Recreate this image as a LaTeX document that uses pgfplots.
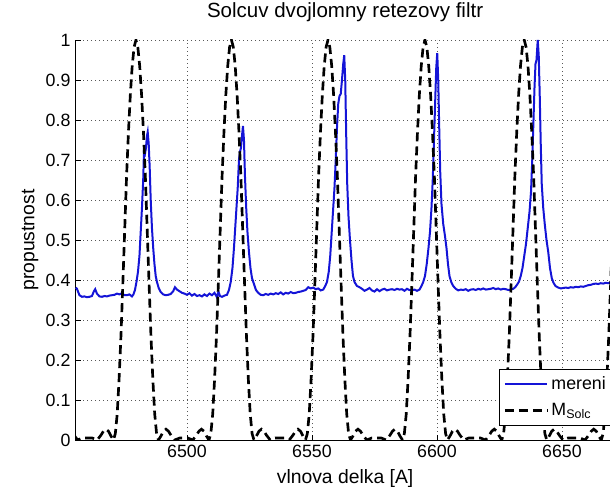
\documentclass[border=0pt]{standalone}
\usepackage{fontspec}
\setmainfont{Liberation Sans}
\usepackage{pgfplots}
\pgfplotsset{compat=1.18}
\definecolor{mblue}{RGB}{20,20,215}
\begin{document}
\begin{tikzpicture}
\begin{axis}[name=ax, at={(0,0)}, anchor=south west,
  scale only axis, width=404.85pt, height=300pt,
  xmin=6455.3, xmax=6671.2, ymin=0, ymax=1,
  axis x line*=bottom, axis y line*=left,
  axis line style={line width=0.75pt, -},
  xtick={6500,6550,6600,6650}, xticklabels={6500,6550,6600,6650},
  ytick={0,0.1,0.2,0.3,0.4,0.5,0.6,0.7,0.8,0.9,1},
  yticklabels={0,0.1,0.2,0.3,0.4,0.5,0.6,0.7,0.8,0.9,1},
  tick align=inside, major tick length=4pt, tick style={black, line width=0.6pt},
  grid=major, major grid style={black!65, line width=0.6pt, dash pattern=on 0.75pt off 2.25pt},
  ticklabel style={font=\fontsize{13.35}{16}\selectfont},
  title={Solcuv dvojlomny retezovy filtr},
  title style={font=\fontsize{15.4}{18}\selectfont, at={(0.5,1)}, anchor=base, yshift=10.5pt},
  xlabel={vlnova delka [A]},
  xlabel style={font=\fontsize{14.5}{17}\selectfont, at={(axis description cs:0.5,-0.1075)}, anchor=base},
  ylabel={propustnost},
  ylabel style={font=\fontsize{14.5}{17}\selectfont, at={(axis description cs:-0.0837,0.5)}, anchor=center},
  legend style={at={(0.785,0.036)}, anchor=south west, draw=black, line width=0.75pt, fill=white,
    font=\fontsize{13.35}{16}\selectfont, row sep=5pt, inner ysep=3.5pt, inner xsep=3pt},
  legend cell align=left,
  legend image code/.code={\draw[#1] (0pt,0pt) -- (32pt,0pt);},
]
\addplot[mblue, line width=1.5pt] coordinates {
(6455.5,0.381) (6456,0.378) (6456.5,0.37) (6457,0.362) (6458,0.358) (6459,0.359) (6460,0.357) (6461,0.358) (6462,0.360) (6462.8,0.372) (6463.3,0.377) (6464,0.366) (6465,0.359) (6466,0.358) (6467,0.360) (6468,0.359) (6469,0.361) (6470,0.362) (6471,0.363) (6472,0.366) (6473,0.364) (6474,0.367) (6475,0.362) (6476,0.362) (6477,0.364) (6478,0.359) (6478.6,0.364) (6479.2,0.375) (6479.8,0.395) (6480.4,0.42) (6481,0.46) (6481.5,0.52) (6482,0.58) (6482.5,0.65) (6482.8,0.72) (6483.2,0.715) (6483.6,0.73) (6484,0.76) (6484.3,0.77) (6484.7,0.74) (6485.1,0.68) (6485.5,0.60) (6486,0.53) (6486.5,0.48) (6487,0.44) (6487.5,0.41) (6488,0.395) (6488.7,0.38) (6489.5,0.37) (6490.5,0.364) (6491.5,0.362) (6492.5,0.363) (6493.5,0.365) (6494.5,0.372) (6495.2,0.382) (6496,0.376) (6497,0.372) (6498,0.368) (6499,0.366) (6500,0.363) (6501,0.367) (6502,0.361) (6503,0.365) (6504,0.360) (6505,0.362) (6506,0.359) (6507,0.364) (6508,0.36) (6509,0.366) (6510,0.362) (6511,0.368) (6512,0.357) (6512.6,0.371) (6513.2,0.36) (6514,0.358) (6515,0.361) (6516,0.363) (6516.8,0.375) (6517.5,0.395) (6518.2,0.43) (6518.8,0.48) (6519.3,0.53) (6519.8,0.58) (6520.3,0.63) (6520.8,0.70) (6521.2,0.72) (6521.6,0.73) (6522,0.76) (6522.4,0.785) (6522.8,0.75) (6523.2,0.66) (6523.7,0.58) (6524.2,0.52) (6524.8,0.47) (6525.4,0.43) (6526,0.405) (6526.8,0.39) (6527.6,0.375) (6528.5,0.368) (6529.5,0.363) (6530.5,0.362) (6531.5,0.365) (6532.5,0.363) (6533.5,0.366) (6534.5,0.364) (6535.5,0.367) (6536.5,0.365) (6537.5,0.369) (6538.5,0.364) (6539.5,0.368) (6540.5,0.366) (6541.5,0.370) (6542.5,0.367) (6543.5,0.368) (6544.5,0.370) (6545.5,0.371) (6546.5,0.373) (6547.5,0.375) (6548.5,0.382) (6549.5,0.379) (6550.5,0.381) (6551.5,0.377) (6552.5,0.379) (6553.5,0.374) (6554.5,0.376) (6555.3,0.385) (6556,0.395) (6556.7,0.42) (6557.3,0.46) (6557.9,0.52) (6558.5,0.58) (6559,0.63) (6559.5,0.70) (6560,0.78) (6560.5,0.84) (6561,0.86) (6561.5,0.865) (6562,0.90) (6562.5,0.94) (6562.9,0.962) (6563.3,0.90) (6563.7,0.76) (6564.1,0.64) (6564.6,0.56) (6565.2,0.50) (6565.8,0.45) (6566.4,0.41) (6567,0.395) (6568,0.385) (6569,0.382) (6570,0.378) (6571,0.373) (6572,0.376) (6573,0.380) (6574,0.374) (6575,0.371) (6576,0.377) (6577,0.372) (6578,0.376) (6579,0.378) (6580,0.374) (6581,0.376) (6582,0.377) (6583,0.375) (6584,0.378) (6585,0.376) (6586,0.377) (6587,0.373) (6588,0.378) (6589,0.375) (6590,0.374) (6591,0.376) (6592,0.373) (6593,0.376) (6593.8,0.385) (6594.5,0.395) (6595.2,0.41) (6595.9,0.44) (6596.6,0.48) (6597.2,0.52) (6597.8,0.58) (6598.3,0.65) (6598.8,0.75) (6599.3,0.85) (6599.7,0.93) (6600.1,0.967) (6600.5,0.90) (6600.9,0.78) (6601.3,0.67) (6601.8,0.59) (6602.5,0.54) (6603.2,0.51) (6603.8,0.48) (6604.4,0.44) (6605,0.41) (6605.7,0.395) (6606.5,0.385) (6607.5,0.378) (6608.5,0.374) (6609.5,0.376) (6610.5,0.375) (6611.5,0.377) (6612.5,0.373) (6613.5,0.376) (6614.5,0.377) (6615.5,0.375) (6616.5,0.378) (6617.5,0.376) (6618.5,0.379) (6619.5,0.376) (6620.5,0.377) (6621.5,0.378) (6622.5,0.380) (6623.5,0.377) (6624.5,0.379) (6625.5,0.376) (6626.5,0.378) (6627.5,0.377) (6628.5,0.375) (6629.5,0.376) (6630.5,0.378) (6631.3,0.382) (6632,0.388) (6632.8,0.396) (6633.5,0.41) (6634.2,0.43) (6634.9,0.46) (6635.6,0.49) (6636.3,0.53) (6637,0.57) (6637.6,0.62) (6638.1,0.70) (6638.6,0.80) (6639,0.88) (6639.4,0.94) (6639.8,0.95) (6640.3,1.0) (6640.7,0.96) (6641.1,0.86) (6641.5,0.74) (6641.9,0.64) (6642.5,0.58) (6643.1,0.54) (6643.8,0.50) (6644.5,0.47) (6645.2,0.43) (6645.9,0.405) (6646.6,0.393) (6647.4,0.385) (6648.5,0.381) (6649.5,0.379) (6650.5,0.380) (6651.5,0.381) (6652.5,0.380) (6653.5,0.382) (6654.5,0.381) (6655.5,0.383) (6656.5,0.382) (6657.5,0.384) (6658.5,0.383) (6659.5,0.385) (6660.5,0.387) (6661.5,0.388) (6662.5,0.390) (6663.5,0.391) (6664.5,0.390) (6665.5,0.392) (6666.5,0.391) (6667.5,0.393) (6668.5,0.392) (6669.5,0.394) (6670.5,0.393)
};
\addlegendentry{mereni}
\addplot[black, line width=2pt, dash pattern=on 6.75pt off 3.75pt] coordinates {
(6454.8,0.012) (6456.3,0) (6458.3,0.005) (6459.8,0.005)
(6460.6,0.005) (6462.1,0.005) (6464.1,0) (6465.6,0.012) (6466.6,0.022) (6467.6,0.027) (6468.6,0.022) (6469.6,0.01) (6470.6,0) (6471.35,0.016) (6472.1,0.065) (6472.85,0.152) (6473.6,0.26) (6474.35,0.39) (6475.1,0.525) (6475.85,0.66) (6476.6,0.77) (6477.35,0.863) (6478.1,0.935) (6478.85,0.982) (6479.6,1) (6480.35,0.982) (6481.1,0.935) (6481.85,0.863) (6482.6,0.77) (6483.35,0.66) (6484.1,0.525) (6484.85,0.39) (6485.6,0.26) (6486.35,0.152) (6487.1,0.065) (6487.85,0.016) (6488.6,0) (6489.6,0.01) (6490.6,0.022) (6491.6,0.027) (6492.6,0.022) (6493.6,0.012) (6495.1,0) (6497.1,0.005) (6498.6,0.005)
(6498.8,0.005) (6500.3,0.005) (6502.3,0) (6503.8,0.012) (6504.8,0.022) (6505.8,0.027) (6506.8,0.022) (6507.8,0.01) (6508.8,0) (6509.55,0.016) (6510.3,0.065) (6511.05,0.152) (6511.8,0.26) (6512.55,0.39) (6513.3,0.525) (6514.05,0.66) (6514.8,0.77) (6515.55,0.863) (6516.3,0.935) (6517.05,0.982) (6517.8,1) (6518.55,0.982) (6519.3,0.935) (6520.05,0.863) (6520.8,0.77) (6521.55,0.66) (6522.3,0.525) (6523.05,0.39) (6523.8,0.26) (6524.55,0.152) (6525.3,0.065) (6526.05,0.016) (6526.8,0) (6527.8,0.01) (6528.8,0.022) (6529.8,0.027) (6530.8,0.022) (6531.8,0.012) (6533.3,0) (6535.3,0.005) (6536.8,0.005)
(6537.4,0.005) (6538.9,0.005) (6540.9,0) (6542.4,0.012) (6543.4,0.022) (6544.4,0.027) (6545.4,0.022) (6546.4,0.01) (6547.4,0) (6548.15,0.016) (6548.9,0.065) (6549.65,0.152) (6550.4,0.26) (6551.15,0.39) (6551.9,0.525) (6552.65,0.66) (6553.4,0.77) (6554.15,0.863) (6554.9,0.935) (6555.65,0.982) (6556.4,1) (6557.15,0.982) (6557.9,0.935) (6558.65,0.863) (6559.4,0.77) (6560.15,0.66) (6560.9,0.525) (6561.65,0.39) (6562.4,0.26) (6563.15,0.152) (6563.9,0.065) (6564.65,0.016) (6565.4,0) (6566.4,0.01) (6567.4,0.022) (6568.4,0.027) (6569.4,0.022) (6570.4,0.012) (6571.9,0) (6573.9,0.005) (6575.4,0.005)
(6576.2,0.005) (6577.7,0.005) (6579.7,0) (6581.2,0.012) (6582.2,0.022) (6583.2,0.027) (6584.2,0.022) (6585.2,0.01) (6586.2,0) (6586.95,0.016) (6587.7,0.065) (6588.45,0.152) (6589.2,0.26) (6589.95,0.39) (6590.7,0.525) (6591.45,0.66) (6592.2,0.77) (6592.95,0.863) (6593.7,0.935) (6594.45,0.982) (6595.2,1) (6595.95,0.982) (6596.7,0.935) (6597.45,0.863) (6598.2,0.77) (6598.95,0.66) (6599.7,0.525) (6600.45,0.39) (6601.2,0.26) (6601.95,0.152) (6602.7,0.065) (6603.45,0.016) (6604.2,0) (6605.2,0.01) (6606.2,0.022) (6607.2,0.027) (6608.2,0.022) (6609.2,0.012) (6610.7,0) (6612.7,0.005) (6614.2,0.005)
(6615.9,0.005) (6617.4,0.005) (6619.4,0) (6620.9,0.012) (6621.9,0.022) (6622.9,0.027) (6623.9,0.022) (6624.9,0.01) (6625.9,0) (6626.65,0.016) (6627.4,0.065) (6628.15,0.152) (6628.9,0.26) (6629.65,0.39) (6630.4,0.525) (6631.15,0.66) (6631.9,0.77) (6632.65,0.863) (6633.4,0.935) (6634.15,0.982) (6634.9,1) (6635.65,0.982) (6636.4,0.935) (6637.15,0.863) (6637.9,0.77) (6638.65,0.66) (6639.4,0.525) (6640.15,0.39) (6640.9,0.26) (6641.65,0.152) (6642.4,0.065) (6643.15,0.016) (6643.9,0) (6644.9,0.01) (6645.9,0.022) (6646.9,0.027) (6647.9,0.022) (6648.9,0.012) (6650.4,0) (6652.4,0.005) (6653.9,0.005)
(6655.7,0.005) (6657.2,0.005) (6659.2,0) (6660.7,0.012) (6661.7,0.022) (6662.7,0.027) (6663.7,0.022) (6664.7,0.01) (6665.7,0) (6666.45,0.016) (6667.2,0.065) (6667.95,0.152) (6668.7,0.26) (6669.45,0.39) (6670.2,0.525) (6670.95,0.66) (6671.7,0.77)
};
\addlegendentry{M\textsubscript{Solc}}
\end{axis}
\pgfresetboundingbox
\path ([shift={(-56.4pt,-36.75pt)}]ax.south west) rectangle ++(457.5pt,366.75pt);
\end{tikzpicture}
\end{document}
